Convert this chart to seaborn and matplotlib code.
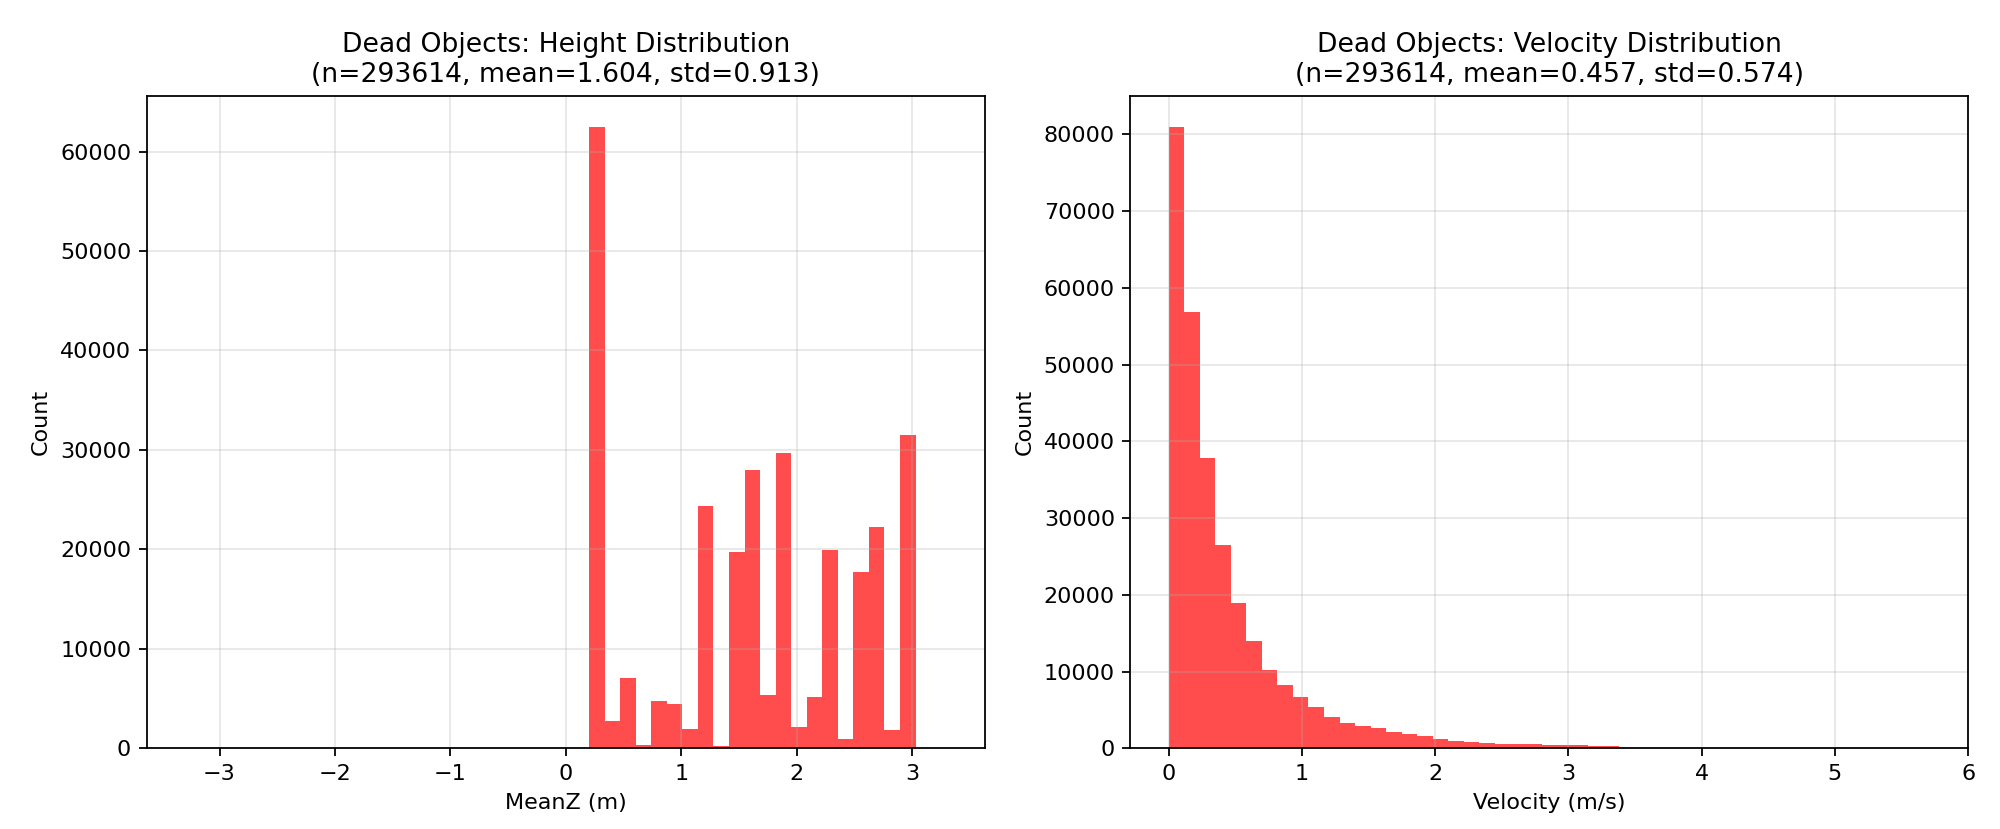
import numpy as np
import pandas as pd
import matplotlib
matplotlib.use("Agg")
import matplotlib.pyplot as plt
import seaborn as sns

# Histogram bin edges (np.linspace(lo, hi, 50) -> 49 bins)
Z_EDGES = np.linspace(-3.3, 3.3, 50)
V_EDGES = np.linspace(0.0, 5.716, 50)

# Height (MeanZ) counts; bins 26..46 hold data
Z_COUNTS_NONZERO = [62500, 2750, 7110, 300, 4730, 4430, 1945, 24330, 220, 19740,
                    28030, 5340, 29700, 2180, 5200, 19940, 940, 17720, 22220, 1840, 31480]
Z_FIRST_BIN = 26

# Velocity counts, one per bin from 0 m/s
V_COUNTS = [80980, 56780, 37820, 26460, 18910, 13970, 10170, 8300, 6680, 5410,
            4100, 3320, 2930, 2620, 2180, 1880, 1545, 1240, 935, 805,
            630, 500, 500, 500, 413, 413, 413, 240, 240, 70,
            60, 50, 40, 40, 30, 30]

TITLE_Z = "Dead Objects: Height Distribution\n(n=293614, mean=1.604, std=0.913)"
TITLE_V = "Dead Objects: Velocity Distribution\n(n=293614, mean=0.457, std=0.574)"

BAR_COLOR = "red"
DPI = 160


def build_frame(edges, counts, first_bin=0):
    n_bins = len(edges) - 1
    full = np.zeros(n_bins)
    full[first_bin:first_bin + len(counts)] = counts
    centers = (edges[:-1] + edges[1:]) / 2
    return pd.DataFrame({"x": centers, "count": full})


def main():
    plt.rcParams['font.family'] = 'DejaVu Sans'
    fig, axes = plt.subplots(1, 2, figsize=(2000 / DPI, 829 / DPI), dpi=DPI)

    z_df = build_frame(Z_EDGES, Z_COUNTS_NONZERO, Z_FIRST_BIN)
    v_df = build_frame(V_EDGES, V_COUNTS)

    # 1. Height distribution
    ax = axes[0]
    sns.histplot(data=z_df, x="x", weights="count", bins=list(Z_EDGES),
                 color=BAR_COLOR, alpha=0.7, edgecolor="none", linewidth=0, ax=ax)
    ax.set_title(TITLE_Z, fontsize=12)
    ax.set_xlabel("MeanZ (m)")
    ax.set_ylabel("Count")
    ax.grid(True, alpha=0.3)

    # 2. Velocity distribution
    ax = axes[1]
    sns.histplot(data=v_df, x="x", weights="count", bins=list(V_EDGES),
                 color=BAR_COLOR, alpha=0.7, edgecolor="none", linewidth=0, ax=ax)
    ax.set_title(TITLE_V, fontsize=12)
    ax.set_xlabel("Velocity (m/s)")
    ax.set_ylabel("Count")
    ax.grid(True, alpha=0.3)

    fig.subplots_adjust(left=0.0734, right=0.9842, bottom=0.0974, top=0.8846, wspace=0.174)
    fig.savefig("out.png", dpi=DPI)
    plt.close(fig)


if __name__ == "__main__":
    main()
